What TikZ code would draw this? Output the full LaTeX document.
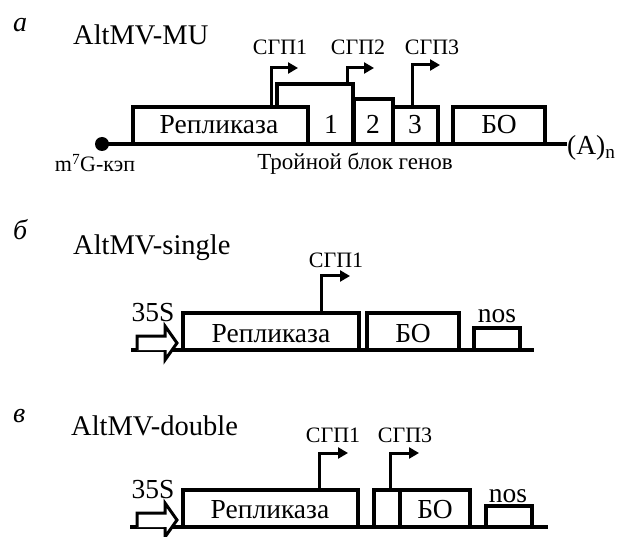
\documentclass[tikz,border=0pt]{standalone}
\usepackage{fontspec}
\setmainfont{Liberation Serif}
\usetikzlibrary{arrows.meta}
\begin{document}
\begin{tikzpicture}[x=1pt,y=-1pt,
  ln/.style={line width=3.2pt},
  gene/.style={draw,line width=3.2pt,fill=white},
  prom/.style={line width=3pt,-{Triangle[length=10pt,width=11pt]}},
  blockarrow/.style={line width=3pt,fill=white,line join=miter},
  bigtext/.style={font=\fontsize{27.5}{27.5}\selectfont,inner sep=0pt},
  titletext/.style={font=\fontsize{28.5}{28.5}\selectfont,inner sep=0pt,anchor=base west},
  lbltext/.style={font=\fontsize{22}{22}\selectfont,inner sep=0pt},
  itext/.style={font=\fontsize{28}{28}\selectfont\itshape,inner sep=0pt,anchor=base west}
]
\useasboundingbox (0,0) rectangle (621,537);

% ---------------- panel a ----------------
\node[itext] (la) at (13,32) {а};
\node[titletext] (ta) at (73,45) {AltMV-MU};
\coordinate (capA) at (102,144);
\coordinate (endA) at (567,144);
\draw[ln] (capA) -- (endA);
\fill (capA) circle (7);
\draw[gene] (277,84) rectangle (353,144);
\draw[gene] (354,99) rectangle (393,144);
\draw[gene] (393,107) rectangle (438,144);
\draw[gene] (133,107) rectangle (308,144);
\draw[gene] (453,107) rectangle (545,144);
\node[bigtext,anchor=base] (repA) at (219,134) {Репликаза};
\node[bigtext,anchor=base] (g1) at (331,134) {1};
\node[bigtext,anchor=base] (g2) at (373,134) {2};
\node[bigtext,anchor=base] (g3) at (415,134) {3};
\node[bigtext,anchor=base] (boA) at (499,134) {БО};
\node[lbltext,anchor=base] (capl) at (95,172) {m\textsuperscript{7}G-кэп};
\node[font=\fontsize{23}{23}\selectfont,inner sep=0pt,anchor=base] (tgb) at (355,170) {Тройной блок генов};
\node[bigtext,anchor=base west] (polyA) at (567,155) {(A)\textsubscript{n}};
\coordinate (p1a) at (271,107);
\coordinate (p1b) at (298,68);
\coordinate (p2a) at (347,84);
\coordinate (p2b) at (374,68);
\coordinate (p3a) at (412,107);
\coordinate (p3b) at (440,65);
\draw[prom] (p1a) |- (p1b);
\draw[prom] (p2a) |- (p2b);
\draw[prom] (p3a) |- (p3b);
\node[lbltext,anchor=base] (s1a) at (280,55) {СГП1};
\node[lbltext,anchor=base] (s2a) at (358,55) {СГП2};
\node[lbltext,anchor=base] (s3a) at (432,55) {СГП3};

% ---------------- panel b ----------------
\node[itext] (lb) at (13,240) {б};
\node[titletext] (tb) at (73,255) {AltMV-single};
\coordinate (startB) at (131,350);
\coordinate (endB) at (534,350);
\draw[ln] (startB) -- (endB);
\draw[gene] (183,313) rectangle (359,350);
\draw[gene] (367,313) rectangle (459,350);
\draw[gene] (474,328) rectangle (520,350);
\draw[blockarrow] (137,350) -- (137,336) -- (165,336) -- (165,326) -- (177,343) -- (165,360) -- (165,350);
\node[bigtext,anchor=base] (repB) at (271,342) {Репликаза};
\node[bigtext,anchor=base] (boB) at (413,342) {БО};
\node[bigtext,anchor=base] (nosB) at (497,323) {nos};
\node[bigtext,anchor=base] (s35B) at (153,322) {35S};
\coordinate (q1a) at (321,313);
\coordinate (q1b) at (350,276);
\draw[prom] (q1a) |- (q1b);
\node[lbltext,anchor=base] (s1b) at (336,268) {СГП1};

% ---------------- panel c ----------------
\node[itext] (lc) at (13,422) {в};
\node[titletext] (tc) at (71,435) {AltMV-double};
\coordinate (startC) at (130,527);
\coordinate (endC) at (548,527);
\draw[ln] (startC) -- (endC);
\draw[gene] (183,490) rectangle (358,527);
\draw[gene] (374,490) rectangle (400,527);
\draw[gene] (400,490) rectangle (470,527);
\draw[gene] (486,506) rectangle (532,527);
\draw[blockarrow] (137,527) -- (137,513) -- (165,513) -- (165,503) -- (177,520) -- (165,537) -- (165,527);
\node[bigtext,anchor=base] (repC) at (270,518) {Репликаза};
\node[bigtext,anchor=base] (boC) at (435,518) {БО};
\node[bigtext,anchor=base] (nosC) at (508,502) {nos};
\node[bigtext,anchor=base] (s35C) at (153,498) {35S};
\coordinate (r1a) at (319,490);
\coordinate (r1b) at (348,453);
\coordinate (r3a) at (390,490);
\coordinate (r3b) at (419,453);
\draw[prom] (r1a) |- (r1b);
\draw[prom] (r3a) |- (r3b);
\node[lbltext,anchor=base] (s1c) at (333,442) {СГП1};
\node[lbltext,anchor=base] (s3c) at (405,442) {СГП3};
\end{tikzpicture}
\end{document}
